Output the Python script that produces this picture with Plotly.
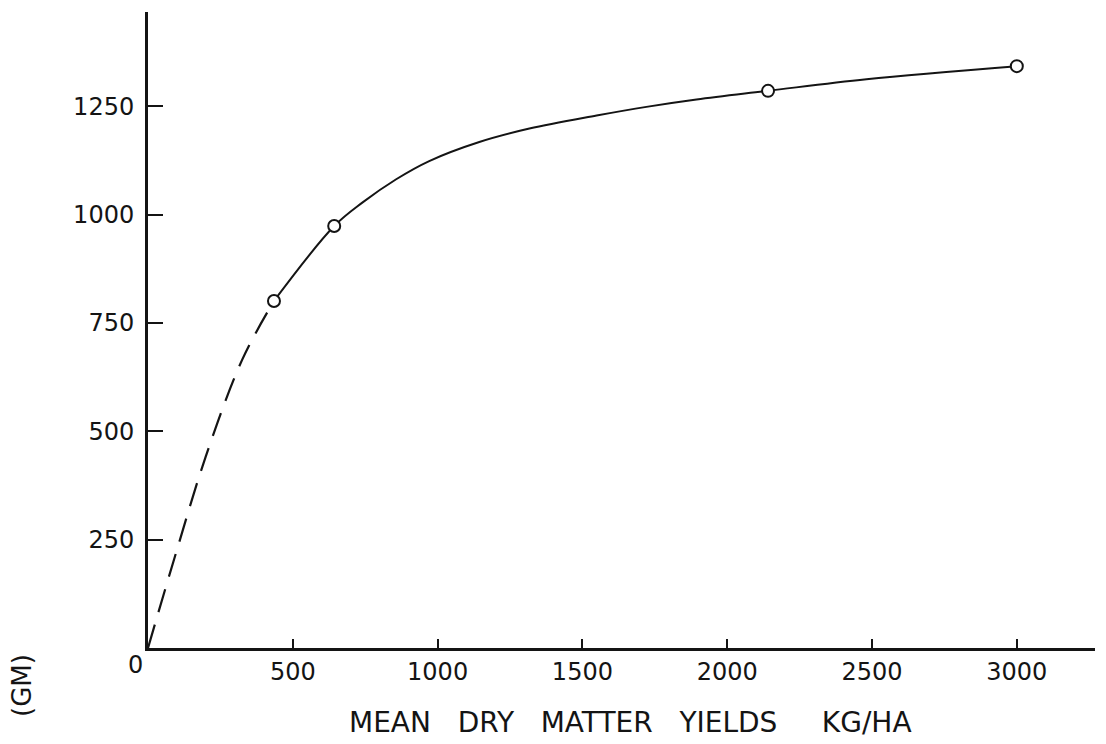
import plotly.graph_objects as go

# Observed points: mean dry matter yield (kg/ha) vs weight (gm)
yield_obs = [435, 643, 2141, 3000]
weight_obs = [801, 974, 1286, 1343]

# Fitted response curve through the observations
curve_yield = [435, 643, 740, 857, 971, 1144, 1317, 1549, 1721, 1894, 2141, 2481, 3000]
curve_weight = [801, 974, 1028, 1082, 1124, 1168, 1199, 1229, 1249, 1266, 1286, 1313, 1343]

# Extrapolated (dashed) section back to the origin
extrap_yield = [0, 96, 199, 325, 435]
extrap_weight = [0, 218, 441, 665, 801]

x_ticks = [500, 1000, 1500, 2000, 2500, 3000]
y_ticks = [250, 500, 750, 1000, 1250]

INK = "#141414"
FONT = "DejaVu Sans"
NB = "\u00a0"

fig = go.Figure()

fig.add_trace(go.Scatter(
    x=extrap_yield, y=extrap_weight, mode="lines",
    line=dict(color=INK, width=2.2, dash="24px,13px", shape="spline"),
    hoverinfo="skip", showlegend=False,
))
fig.add_trace(go.Scatter(
    x=curve_yield, y=curve_weight, mode="lines",
    line=dict(color=INK, width=2, shape="spline", smoothing=1.0),
    hoverinfo="skip", showlegend=False,
))
fig.add_trace(go.Scatter(
    x=yield_obs, y=weight_obs, mode="markers",
    marker=dict(symbol="circle", size=12, color="white",
                line=dict(color=INK, width=2)),
    showlegend=False,
))

x_title = (NB * 3).join(["MEAN", "DRY", "MATTER", "YIELDS"]) + NB * 5 + "KG/HA"

fig.update_layout(
    width=1106, height=744,
    margin=dict(l=148, r=11, t=12, b=96),
    paper_bgcolor="white", plot_bgcolor="white",
    font=dict(family=FONT, color=INK, size=24),
    xaxis=dict(
        range=[0, 3270], showgrid=False, zeroline=False,
        showline=True, linecolor=INK, linewidth=3,
        ticks="inside", ticklen=9, tickwidth=2, tickcolor=INK,
        tickvals=x_ticks, ticktext=[str(v) for v in x_ticks],
        tickfont=dict(family=FONT, size=24, color=INK),
        ticklabelstandoff=0,
    ),
    yaxis=dict(
        range=[0, 1468], showgrid=False, zeroline=False,
        showline=True, linecolor=INK, linewidth=3,
        ticks="inside", ticklen=15, tickwidth=2, tickcolor=INK,
        tickvals=y_ticks, ticktext=[str(v) for v in y_ticks],
        tickfont=dict(family=FONT, size=24, color=INK),
        ticklabelstandoff=6,
    ),
    annotations=[
        dict(text="0", xref="paper", yref="paper", x=0, y=0,
             xanchor="center", yanchor="middle", xshift=-13, yshift=-17,
             showarrow=False, font=dict(family=FONT, size=24, color=INK)),
        dict(text=x_title,
             xref="paper", yref="paper", x=0.509, y=0,
             xanchor="center", yanchor="middle", yshift=-74,
             showarrow=False, font=dict(family=FONT, size=28, color=INK)),
        dict(text="(GM)", xref="paper", yref="paper", x=0, y=0,
             xanchor="center", yanchor="middle", xshift=-126, yshift=-38,
             textangle=-90, showarrow=False,
             font=dict(family=FONT, size=26, color=INK)),
    ],
)

fig.write_html("out.html")
